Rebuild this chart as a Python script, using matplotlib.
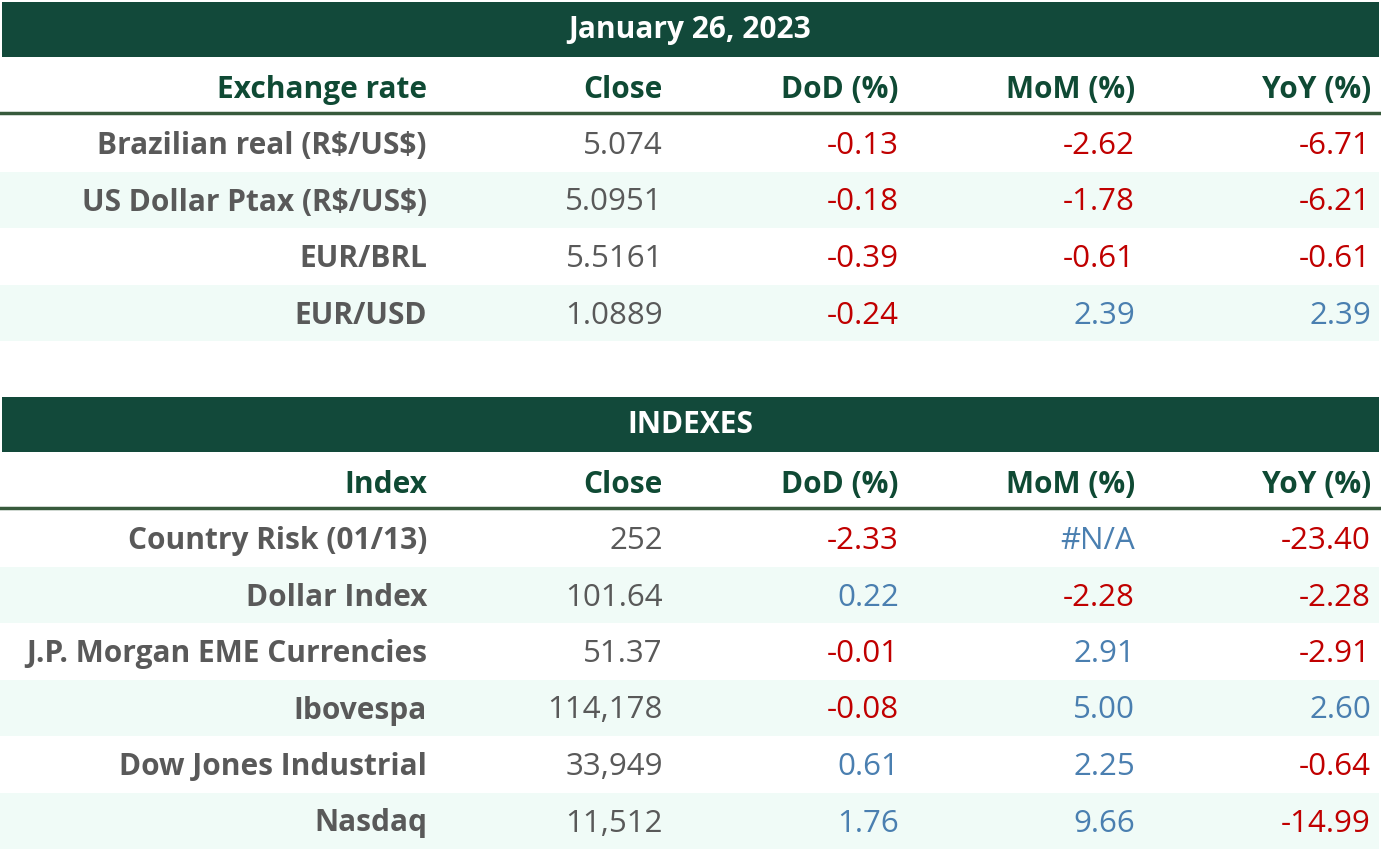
import matplotlib.pyplot as plt

# table 1: exchange rates
fx_title = "January 26, 2023"
fx_header = ["Exchange rate", "Close", "DoD (%)", "MoM (%)", "YoY (%)"]
fx_names = ["Brazilian real (R$/US$)", "US Dollar Ptax (R$/US$)", "EUR/BRL", "EUR/USD"]
fx_close = ["5.074", "5.0951", "5.5161", "1.0889"]
fx_dod = [-0.13, -0.18, -0.39, -0.24]
fx_mom = [-2.62, -1.78, -0.61, 2.39]
fx_yoy = [-6.71, -6.21, -0.61, 2.39]

# table 2: indexes
ix_title = "INDEXES"
ix_header = ["Index", "Close", "DoD (%)", "MoM (%)", "YoY (%)"]
ix_names = ["Country Risk (01/13)", "Dollar Index", "J.P. Morgan EME Currencies",
            "Ibovespa", "Dow Jones Industrial", "Nasdaq"]
ix_close = ["252", "101.64", "51.37", "114,178", "33,949", "11,512"]
ix_dod = [-2.33, 0.22, -0.01, -0.08, 0.61, 1.76]
ix_mom = [None, -2.28, 2.91, 5.00, 2.25, 9.66]
ix_yoy = [-23.40, -2.28, -2.91, 2.60, -0.64, -14.99]

BAND = "#12493a"
HEAD = "#0f4a34"
LINE = "#375a3c"
STRIPE = "#f0fbf7"
GRAY = "#595959"
RED = "#c00000"
BLUE = "#4a7fb0"

col_x = [427, 663, 899, 1135, 1371]
row_h = 56.5

fig = plt.figure(figsize=(13.81, 8.51), dpi=100)
ax = fig.add_axes([0, 0, 1, 1])
ax.set_xlim(0, 1381)
ax.set_ylim(851, 0)
ax.axis("off")


def fmt(v):
    if v is None:
        return "#N/A", BLUE
    return f"{v:.2f}", (RED if v < 0 else BLUE)


def label(x, y, s, color, size=21.5, bold=True, fam="Open Sans", ha="right"):
    ax.text(x, y, s, color=color, fontsize=size, fontweight="bold" if bold else "normal",
            ha=ha, va="center", family=fam, parse_math=False)


def draw_table(top, title, header, names, close, dod, mom, yoy):
    ax.add_patch(plt.Rectangle((2, top), 1377, 55, color=BAND, lw=0))
    label(690, top + 28, title, "white", ha="center")
    hy = top + 88
    for x, h in zip(col_x, header):
        label(x, hy, h, HEAD)
    ax.plot([0, 1381], [top + 111, top + 111], color=LINE, lw=2.5)
    y0 = top + 141
    for i, name in enumerate(names):
        y = y0 + i * row_h
        if i % 2 == 1:
            ax.add_patch(plt.Rectangle((0, y - 28), 1379, row_h, color=STRIPE, lw=0))
        label(col_x[0], y + 3, name, GRAY)
        label(col_x[1], y + 3, close[i], GRAY, size=22.5, bold=False)
        for j, v in enumerate([dod[i], mom[i], yoy[i]]):
            s, c = fmt(v)
            label(col_x[j + 2], y + 3, s, c, size=22.5, bold=False)


draw_table(2, fx_title, fx_header, fx_names, fx_close, fx_dod, fx_mom, fx_yoy)
draw_table(397, ix_title, ix_header, ix_names, ix_close, ix_dod, ix_mom, ix_yoy)

fig.savefig("out.png", dpi=100)
